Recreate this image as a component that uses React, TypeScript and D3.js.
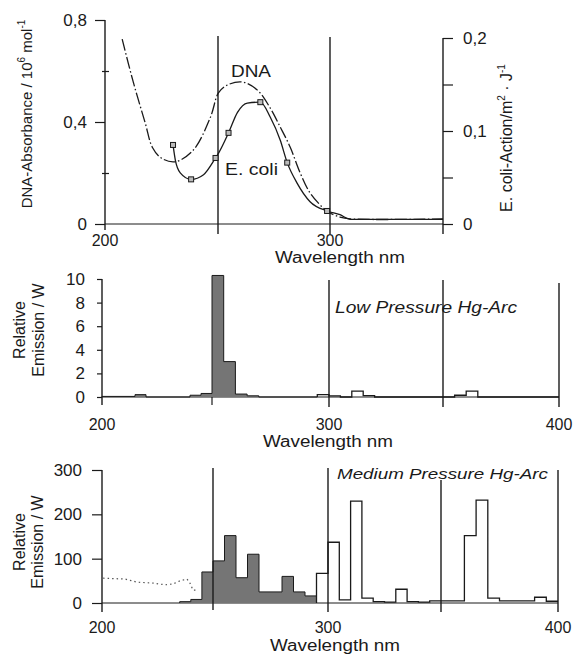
import React, { useEffect, useRef } from 'react';
import * as d3 from 'd3';

// top panel: DNA absorbance (left axis) and E. coli action spectrum (right axis)
const dnaNm = [207.6, 212.4, 217.8, 221, 225, 231.1, 239.1, 246.7, 250.2, 254.2, 260.9, 267.6, 273.3, 277.8, 282.2, 286.7, 291.1, 296.9, 299.1, 304.4, 308.9, 350];
const dnaVal = [0.725, 0.56, 0.396, 0.3, 0.258, 0.244, 0.29, 0.42, 0.514, 0.545, 0.557, 0.525, 0.455, 0.38, 0.302, 0.2, 0.122, 0.063, 0.047, 0.027, 0.02, 0.02];

const ecoliNm = [230.1, 231.1, 233.3, 238.1, 243.6, 248.9, 250.2, 254.7, 258.7, 263.1, 268.9, 273.3, 277.8, 280.9, 285.3, 291.1, 298.7, 304.4, 308.9, 350];
const ecoliVal = [0.085, 0.069, 0.055, 0.048, 0.053, 0.071, 0.076, 0.098, 0.12, 0.13, 0.131, 0.115, 0.09, 0.066, 0.044, 0.024, 0.014, 0.01, 0.005, 0.005];
const ecoliPointNm = [230.1, 238.1, 248.9, 254.7, 268.9, 280.9, 298.7];
const ecoliPointVal = [0.085, 0.048, 0.071, 0.098, 0.131, 0.066, 0.014];

// middle panel: low pressure Hg-arc, 5 nm bins (start wavelength), last bin ends at 400
const lowStart = [200, 215, 220, 240, 245, 250, 255, 260, 265, 270, 295, 300, 305, 310, 315, 320, 355, 360, 365];
const lowValue = [0.05, 0.2, 0, 0.15, 0.3, 10.3, 3, 0.25, 0.1, 0, 0.2, 0.1, 0, 0.5, 0.12, 0, 0.15, 0.5, 0];

// bottom panel: medium pressure Hg-arc
const medStart = [235, 240, 245, 250, 255, 260, 265, 270, 280, 285, 290, 295, 300, 305, 310, 315, 320, 325, 330, 335, 340, 345, 350, 360, 365, 370, 375, 390, 395];
const medValue = [3, 8, 70, 95, 152, 57, 110, 25, 60, 25, 16, 67, 137, 7, 230, 11, 3, 2, 31, 3, 2, 5, 5, 152, 232, 11, 5, 13, 4];
const dottedNm = [200.5, 210.4, 215.8, 223, 228.4, 232, 235.1, 238.3, 239.6, 241, 243.2];
const dottedVal = [56, 54, 47, 45, 41, 43, 50, 54, 45, 29, 29];

const topTicksL = [0, 0.4, 0.8];
const topTicksR = [0, 0.1, 0.2];
const lowTicks = [0, 2, 4, 6, 8, 10];
const medTicks = [0, 100, 200, 300];

const FONT = '"Liberation Sans", Arial, Helvetica, sans-serif';
const INK = '#1a1a1a';

function App() {
  const ref = useRef<SVGSVGElement>(null);

  useEffect(() => {
    const svg = d3.select(ref.current);
    svg.selectAll('*').remove();

    const comma = (d: any) => (d === 0 ? '0' : (+d).toFixed(1).replace('.', ','));

    const vline = (x: number, y1: number, y2: number, w = 1.4) =>
      svg.append('line').attr('x1', x).attr('x2', x).attr('y1', y1).attr('y2', y2)
        .attr('stroke', INK).attr('stroke-width', w);
    const hline = (x1: number, x2: number, y: number, w = 1.2) =>
      svg.append('line').attr('x1', x1).attr('x2', x2).attr('y1', y).attr('y2', y)
        .attr('stroke', INK).attr('stroke-width', w);

    const styleAxis = (g: any, size: number) => {
      g.select('.domain').remove();
      g.selectAll('line').attr('stroke', INK).attr('stroke-width', 1.2);
      g.selectAll('text').attr('font-size', size).attr('font-family', FONT).attr('fill', INK);
    };

    const text = (x: number, y: number, s: string, size: number, anchor = 'middle') =>
      svg.append('text').attr('x', x).attr('y', y).attr('font-size', size)
        .attr('font-family', FONT).attr('fill', INK).attr('text-anchor', anchor).text(s);

    // ---------------- top panel ----------------
    const tx = d3.scaleLinear().domain([200, 250, 300, 350]).range([105, 218, 330, 443]);
    const tyL = d3.scaleLinear().domain([0, 0.8]).range([224, 20]);
    const tyR = d3.scaleLinear().domain([0, 0.2]).range([224, 38]);

    hline(tx(200), tx(350), tyL(0), 1);
    vline(tx(200), tyL(0.8), 230);
    vline(tx(250), 36, 234);
    vline(tx(300), 37, 234);
    vline(tx(350), tyR(0.2), 234);

    const gl = svg.append('g').attr('transform', `translate(${tx(200)},0)`)
      .call(d3.axisLeft(tyL).tickValues(topTicksL).tickFormat(comma).tickSize(10).tickPadding(8));
    styleAxis(gl, 17);
    const glm = svg.append('g').attr('transform', `translate(${tx(200) + 4},0)`)
      .call(d3.axisLeft(tyL).tickValues([0.2, 0.6]).tickFormat(() => '').tickSize(7));
    styleAxis(glm, 10);
    const gr = svg.append('g').attr('transform', `translate(${tx(350)},0)`)
      .call(d3.axisRight(tyR).tickValues(topTicksR).tickFormat(comma).tickSize(10).tickPadding(10));
    styleAxis(gr, 17);
    const grm = svg.append('g').attr('transform', `translate(${tx(350)},0)`)
      .call(d3.axisRight(tyR).tickValues([0.05, 0.15]).tickFormat(() => '').tickSize(10));
    styleAxis(grm, 10);

    const dnaLine = d3.line<number>().x((d) => tx(d)).y((_, i) => tyL(dnaVal[i])).curve(d3.curveCatmullRom.alpha(0.5));
    svg.append('path').attr('d', dnaLine(dnaNm)).attr('fill', 'none').attr('stroke', INK)
      .attr('stroke-width', 1.3).attr('stroke-dasharray', '12,2.5,1.5,2.5');

    const ecoliLine = d3.line<number>().x((d) => tx(d)).y((_, i) => tyR(ecoliVal[i])).curve(d3.curveMonotoneX);
    svg.append('path').attr('d', ecoliLine(ecoliNm)).attr('fill', 'none').attr('stroke', INK).attr('stroke-width', 1.3);
    svg.selectAll('.pt').data(ecoliPointNm).enter().append('rect')
      .attr('x', (d) => tx(d) - 2.5).attr('y', (_, i) => tyR(ecoliPointVal[i]) - 2.5)
      .attr('width', 5).attr('height', 5).attr('fill', '#bbb').attr('stroke', INK).attr('stroke-width', 1);

    text(251, 77, 'DNA', 17).attr('textLength', 40).attr('lengthAdjust', 'spacingAndGlyphs');
    text(225, 175, 'E. coli', 17, 'start').attr('textLength', 53).attr('lengthAdjust', 'spacingAndGlyphs');

    text(tx(200), 246, '200', 16);
    text(tx(300), 246, '300', 16);
    text(340, 263, 'Wavelength nm', 16).attr('textLength', 130).attr('lengthAdjust', 'spacingAndGlyphs');

    const yl = svg.append('text').attr('transform', 'translate(32,114) rotate(-90)')
      .attr('text-anchor', 'middle').attr('font-size', 15).attr('font-family', FONT).attr('fill', INK);
    yl.append('tspan').text('DNA-Absorbance / 10');
    yl.append('tspan').attr('font-size', 10).attr('dy', -7).text('6');
    yl.append('tspan').attr('dy', 7).text(' mol');
    yl.append('tspan').attr('font-size', 10).attr('dy', -7).text('-1');

    const yr = svg.append('text').attr('transform', 'translate(512,138) rotate(-90)')
      .attr('text-anchor', 'middle').attr('font-size', 16).attr('font-family', FONT).attr('fill', INK);
    yr.append('tspan').text('E. coli-Action/m');
    yr.append('tspan').attr('font-size', 10).attr('dy', -7).text('2');
    yr.append('tspan').attr('dy', 7).text(' \u00b7 J');
    yr.append('tspan').attr('font-size', 10).attr('dy', -7).text('-1');

    // ---------------- histogram helper ----------------
    const drawBins = (x: any, y: any, starts: number[], values: number[], end: number, split: number) => {
      const pts = starts.map((s, i) => [s, values[i]] as [number, number]);
      const gray = pts.filter((p) => p[0] < split);
      const open = pts.filter((p) => p[0] >= split);
      const grayPts = [...gray, [open.length ? open[0][0] : end, gray[gray.length - 1][1]] as [number, number]];
      const openPts = [[open[0][0], 0] as [number, number], ...open, [end, open[open.length - 1][1]] as [number, number]];
      const area = d3.area<[number, number]>().x((d) => x(d[0])).y0(y(0)).y1((d) => y(d[1])).curve(d3.curveStepAfter);
      const line = d3.line<[number, number]>().x((d) => x(d[0])).y((d) => y(d[1])).curve(d3.curveStepAfter);
      svg.append('path').attr('d', area(grayPts)).attr('fill', '#757575');
      svg.append('path').attr('d', line([[gray[0][0], 0], ...grayPts])).attr('fill', 'none').attr('stroke', INK).attr('stroke-width', 1);
      svg.append('path').attr('d', line(openPts)).attr('fill', 'none').attr('stroke', INK).attr('stroke-width', 1.3);
    };

    // ---------------- middle panel ----------------
    const mx = d3.scaleLinear().domain([200, 250, 300, 350, 400]).range([102, 212, 329, 443, 559]);
    const my = d3.scaleLinear().domain([0, 10]).range([397, 279]);

    hline(mx(200), mx(400), my(0), 1);
    drawBins(mx, my, lowStart, lowValue, 400, 295);
    vline(mx(200), my(10), 405);
    vline(mx(250), my(0), 405, 1.2);
    vline(mx(300), 280, 407);
    vline(mx(350), 280, 407);
    vline(mx(400), 283, 407);

    const gml = svg.append('g').attr('transform', `translate(${mx(200)},0)`)
      .call(d3.axisLeft(my).tickValues(lowTicks).tickFormat(d3.format('d')).tickSize(5).tickPadding(12));
    styleAxis(gml, 17);

    text(mx(200), 430, '200', 16);
    text(mx(300), 430, '300', 16);
    text(mx(400), 430, '400', 16);
    text(328, 447, 'Wavelength nm', 16).attr('textLength', 130).attr('lengthAdjust', 'spacingAndGlyphs');

    text(335, 313, 'Low Pressure Hg-Arc', 16, 'start').attr('font-style', 'italic')
      .attr('textLength', 182).attr('lengthAdjust', 'spacingAndGlyphs');

    const ml = svg.append('text').attr('transform', 'translate(0,330) rotate(-90)')
      .attr('text-anchor', 'middle').attr('font-size', 16).attr('font-family', FONT).attr('fill', INK);
    ml.append('tspan').attr('x', 0).attr('y', 25).text('Relative');
    ml.append('tspan').attr('x', 0).attr('y', 44).text('Emission / W');

    // ---------------- bottom panel ----------------
    const bx = d3.scaleLinear().domain([200, 250, 300, 350, 400]).range([102, 213, 328, 441, 558]);
    const by = d3.scaleLinear().domain([0, 300]).range([603, 470]);

    hline(bx(200), bx(400), by(0), 1);
    const dotted = d3.line<number>().x((d) => bx(d)).y((_, i) => by(dottedVal[i]));
    svg.append('path').attr('d', dotted(dottedNm)).attr('fill', 'none').attr('stroke', '#555')
      .attr('stroke-width', 1.2).attr('stroke-dasharray', '1.5,3');
    drawBins(bx, by, medStart, medValue, 400, 295);
    vline(bx(200), by(300), 612);
    vline(bx(250), 468, 610);
    vline(bx(300), 468, 612);
    vline(bx(350), 480, 612);
    vline(bx(400), 470, 612);

    const gbl = svg.append('g').attr('transform', `translate(${bx(200)},0)`)
      .call(d3.axisLeft(by).tickValues(medTicks).tickFormat(d3.format('d')).tickSize(10).tickPadding(10));
    styleAxis(gbl, 17);

    text(bx(200), 633, '200', 16);
    text(bx(300), 633, '300', 16);
    text(bx(400), 633, '400', 16);
    text(335, 651, 'Wavelength nm', 16).attr('textLength', 130).attr('lengthAdjust', 'spacingAndGlyphs');

    text(337, 479, 'Medium Pressure Hg-Arc', 15.5, 'start').attr('font-style', 'italic')
      .attr('textLength', 211).attr('lengthAdjust', 'spacingAndGlyphs');

    const bl = svg.append('text').attr('transform', 'translate(0,542) rotate(-90)')
      .attr('text-anchor', 'middle').attr('font-size', 16).attr('font-family', FONT).attr('fill', INK);
    bl.append('tspan').attr('x', 0).attr('y', 25).text('Relative');
    bl.append('tspan').attr('x', 0).attr('y', 43).text('Emission / W');
  }, []);

  return (
    <svg ref={ref} width={579} height={655}
      style={{ position: 'absolute', left: 0, top: 0, background: '#fff' }} />
  );
}

export default App;
